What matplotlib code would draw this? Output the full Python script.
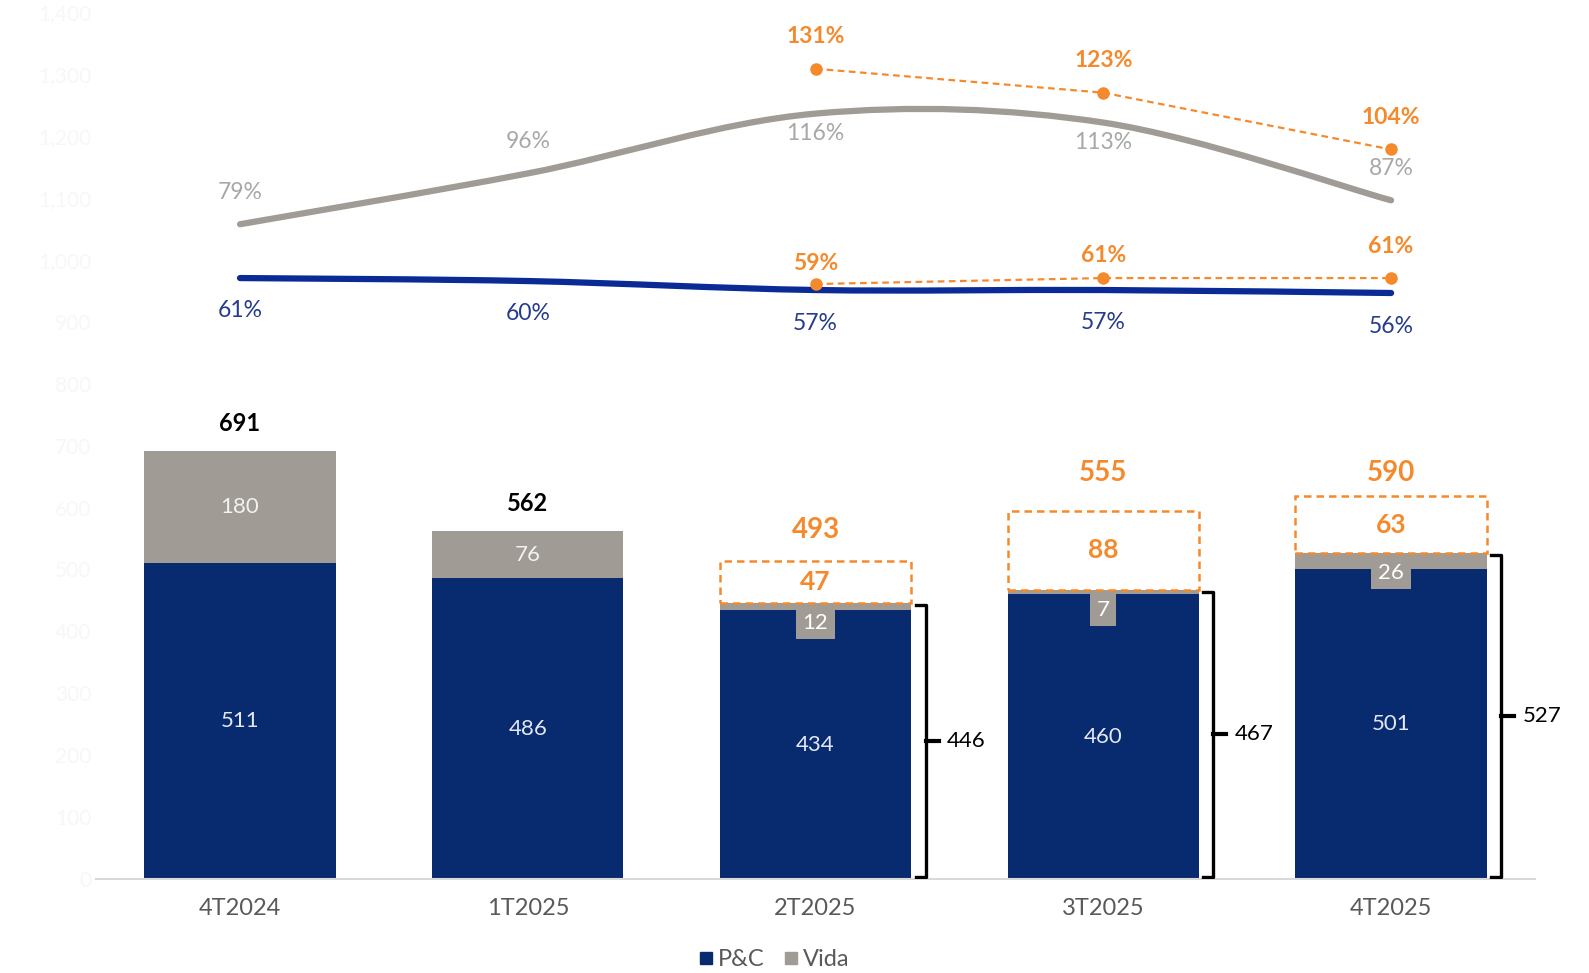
import numpy as np
import matplotlib
matplotlib.use('Agg')
import matplotlib.pyplot as plt
from matplotlib.path import Path
from matplotlib.patches import PathPatch, Rectangle
from matplotlib.lines import Line2D

plt.rcParams['font.family'] = ['Lato', 'DejaVu Sans']

# data
quarters = ['4T2024', '1T2025', '2T2025', '3T2025', '4T2025']
pc = [511, 486, 434, 460, 501]
vida = [180, 76, 12, 7, 26]
extra = [0, 0, 47, 88, 63]          # orange dashed add-on
gray_pct = [79, 96, 116, 113, 87]
blue_pct = [61, 60, 57, 57, 56]
orange_hi = [np.nan, np.nan, 131, 123, 104]
orange_lo = [np.nan, np.nan, 59, 61, 61]

NAVY = '#082A6E'
BLUE_LINE = '#0A2B96'
GRAY = '#A09B94'
ORANGE = '#F58A2C'
TXT = '#595959'

fig = plt.figure(figsize=(15.89, 9.73), dpi=100)
ax = fig.add_axes([0.0605, 0.0966, 0.9055, 0.9034])
ax2 = ax.twinx()

x = np.arange(len(quarters))
w = 0.665

ax.bar(x, pc, w, color=NAVY, zorder=2)
ax.bar(x, vida, w, bottom=pc, color=GRAY, zorder=2)

ax.set_xlim(-0.5, 4.5)
ax.set_ylim(0, 1420)
ax2.set_ylim(-140, 154)

for s in ['top', 'right', 'left']:
    ax.spines[s].set_visible(False)
    ax2.spines[s].set_visible(False)
ax2.spines['bottom'].set_visible(False)
ax.spines['bottom'].set_color('#D9D9D9')
ax.spines['bottom'].set_linewidth(1.5)
ax.set_xticks(x)
ax.set_xticklabels(quarters, fontsize=17, color=TXT)
ax.tick_params(axis='x', length=0, pad=14)
ax.set_yticks(np.arange(0, 1500, 100))
ax.set_yticklabels(['{:,}'.format(v) for v in range(0, 1500, 100)],
                   fontsize=15, color='#F7F7F7')
ax.tick_params(axis='y', length=0)
ax2.set_yticks([])

BOX_SCALE = 1.45
total_off = [20, 20, 22, 27, 17]
for i in range(len(x)):
    top = pc[i] + vida[i]
    ax.text(x[i], pc[i] / 2, str(pc[i]), ha='center', va='center',
            fontsize=16, color='#E4E7F2', zorder=4)
    if vida[i] >= 50:
        ax.text(x[i], pc[i] + vida[i] / 2, str(vida[i]), ha='center', va='center',
                fontsize=16, color='#F2F2F2', zorder=4)
    else:
        ax.annotate(str(vida[i]), (x[i], top), xytext=(0, -7), textcoords='offset points',
                    ha='center', va='top', fontsize=16, color='white', zorder=4,
                    bbox=dict(boxstyle='square,pad=0.3', fc=GRAY, ec='none'))
    if extra[i]:
        h = extra[i] * BOX_SCALE
        ax.add_patch(Rectangle((x[i] - w / 2, top), w, h, fill=False, ec=ORANGE,
                               ls=(0, (3, 2)), lw=1.8, zorder=3))
        ax.text(x[i], top + h / 2, str(extra[i]), ha='center', va='center',
                fontsize=19, color=ORANGE, fontweight='bold')
        ax.annotate(str(top + extra[i]), (x[i], top + h), xytext=(0, total_off[i]),
                    textcoords='offset points', ha='center', va='center',
                    fontsize=20, color=ORANGE, fontweight='bold')
        # bracket
        xv = x[i] + w / 2 + 0.05
        ax.plot([xv - 0.035, xv, xv, xv - 0.035], [top - 3, top - 3, 4, 4],
                color='black', lw=2.4, solid_joinstyle='round', zorder=3)
        ax.plot([xv, xv + 0.045], [top / 2, top / 2], color='black', lw=3, zorder=3)
        ax.text(xv + 0.075, top / 2, str(top), ha='left', va='center', fontsize=16,
                color='black')
    else:
        ax.annotate(str(top), (x[i], top), xytext=(0, total_off[i]), textcoords='offset points',
                    ha='center', va='center', fontsize=17, color='black',
                    fontweight='bold')


def smooth_line(axis, xs, ys, color, lw):
    pts = np.column_stack([xs, ys])
    n = len(pts)
    verts = [pts[0]]
    codes = [Path.MOVETO]
    for k in range(n - 1):
        p0 = pts[max(k - 1, 0)]
        p1 = pts[k]
        p2 = pts[k + 1]
        p3 = pts[min(k + 2, n - 1)]
        c1 = p1 + (p2 - p0) / 6
        c2 = p2 - (p3 - p1) / 6
        verts += [c1, c2, p2]
        codes += [Path.CURVE4] * 3
    axis.add_patch(PathPatch(Path(verts, codes), fill=False, ec=color, lw=lw,
                             capstyle='round', zorder=3))


smooth_line(ax2, x, gray_pct, GRAY, 4.5)
smooth_line(ax2, x, blue_pct, BLUE_LINE, 4.5)

ax2.plot(x, orange_hi, ls=(0, (3, 2)), color=ORANGE, lw=1.6, marker='o', ms=8, zorder=4)
ax2.plot(x, orange_lo, ls=(0, (3, 2)), color=ORANGE, lw=1.6, marker='o', ms=8, zorder=4)

gray_off = [-22.5, -23, 14, 14.5, -23]
blue_off = [-23.5, -23.5, -24, -23.5, -24]
hi_off = [0, 0, 23, 23, 23]
lo_off = [0, 0, 15, 16, 23]

for i in range(len(x)):
    ax2.annotate('{}%'.format(gray_pct[i]), (x[i], gray_pct[i]), xytext=(0, -gray_off[i]),
                 textcoords='offset points', ha='center', va='center', fontsize=16.5,
                 color='#A8A8A8')
    ax2.annotate('{}%'.format(blue_pct[i]), (x[i], blue_pct[i]), xytext=(0, blue_off[i]),
                 textcoords='offset points', ha='center', va='center', fontsize=16.5,
                 color='#253C8C')
    if not np.isnan(orange_hi[i]):
        ax2.annotate('{:.0f}%'.format(orange_hi[i]), (x[i], orange_hi[i]),
                     xytext=(0, hi_off[i]), textcoords='offset points', ha='center',
                     va='center', fontsize=16.5, color=ORANGE, fontweight='bold')
        ax2.annotate('{:.0f}%'.format(orange_lo[i]), (x[i], orange_lo[i]),
                     xytext=(0, lo_off[i]), textcoords='offset points', ha='center',
                     va='center', fontsize=16.5, color=ORANGE, fontweight='bold')

handles = [Line2D([], [], ls='none', marker='s', ms=9, color=NAVY, label='P&C'),
           Line2D([], [], ls='none', marker='s', ms=9, color=GRAY, label='Vida')]
fig.legend(handles=handles, loc='center', bbox_to_anchor=(0.485, 0.014), ncol=2,
           frameon=False, fontsize=17, labelcolor=TXT, handletextpad=-0.1,
           columnspacing=0.5, handlelength=1.2)

fig.savefig('out.png', dpi=100)
